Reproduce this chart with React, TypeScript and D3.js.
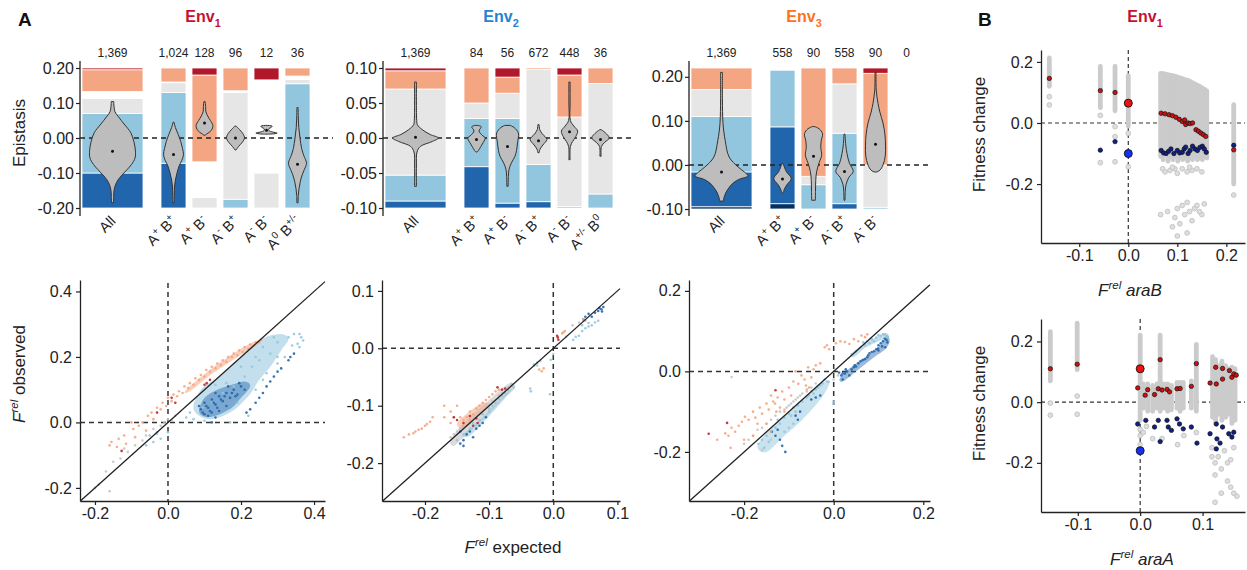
import React, { useEffect, useRef } from 'react';
import * as d3 from 'd3';

const W = 1247;
const H = 570;
const FONT = '"Liberation Sans", Arial, Helvetica, sans-serif';

// segment order, bottom to top: navy, dark blue, light blue, gray, white, salmon, dark red
const segColors = ['#053061', '#2166ac', '#92c5de', '#e6e6e6', '#ffffff', '#f4a582', '#b2182b'];

// ---------- Panel A, top row: epistasis per class ----------
const env1Cats = ['All', 'A^{+} B^{+}', 'A^{+} B^{-}', 'A^{-} B^{+}', 'A^{-} B^{-}', 'A^{0} B^{+/-}'];
const env1Counts = ['1,369', '1,024', '128', '96', '12', '36'];
const env1Segs = [
  [0, 0.25, 0.425, 0.1075, 0.05, 0.155, 0.0125],
  [0, 0.32, 0.505, 0.07, 0.005, 0.1, 0],
  [0, 0, 0, 0.075, 0.255, 0.62, 0.05],
  [0, 0, 0.0625, 0.7625, 0.0125, 0.1625, 0],
  [0, 0, 0, 0.25, 0.665, 0, 0.085],
  [0, 0, 0.8875, 0.03, 0.025, 0.0575, 0],
];
const env1Violins = [
  [[0.104, 0.04], [0.09, 0.05], [0.075, 0.08], [0.06, 0.2], [0.04, 0.38], [0.015, 0.6], [-0.01, 0.7], [-0.035, 0.75], [-0.057, 0.74], [-0.076, 0.62], [-0.09, 0.48], [-0.105, 0.32], [-0.12, 0.18], [-0.133, 0.1], [-0.15, 0.05], [-0.17, 0.04], [-0.185, 0.03]],
  [[0.045, 0.04], [0.03, 0.15], [0.01, 0.38], [-0.01, 0.58], [-0.03, 0.72], [-0.048, 0.8], [-0.065, 0.65], [-0.08, 0.45], [-0.1, 0.28], [-0.12, 0.15], [-0.14, 0.08], [-0.16, 0.06], [-0.185, 0.05]],
  [[0.104, 0.05], [0.09, 0.09], [0.075, 0.11], [0.06, 0.3], [0.05, 0.47], [0.036, 0.67], [0.022, 0.55], [0.012, 0.2], [0.008, 0.05]],
  [[0.034, 0.05], [0.025, 0.3], [0.012, 0.6], [0.0, 0.72], [-0.012, 0.55], [-0.024, 0.25], [-0.034, 0.05]],
  [[0.036, 0.05], [0.034, 0.45], [0.031, 0.4], [0.026, 0.18], [0.021, 0.2], [0.017, 0.5], [0.014, 0.85], [0.012, 0.6], [0.011, 0.05]],
  [[0.087, 0.05], [0.06, 0.06], [0.03, 0.1], [0.0, 0.2], [-0.03, 0.33], [-0.05, 0.5], [-0.072, 0.72], [-0.09, 0.55], [-0.105, 0.38], [-0.125, 0.22], [-0.145, 0.12], [-0.165, 0.06], [-0.185, 0.05]],
];
const env1Medians = [-0.038, -0.047, 0.043, 0.0, 0.022, -0.075];

const env2Cats = ['All', 'A^{+} B^{+}', 'A^{+} B^{-}', 'A^{-} B^{+}', 'A^{-} B^{-}', 'A^{+/-} B^{0}'];
const env2Counts = ['1,369', '84', '56', '672', '448', '36'];
const env2Segs = [
  [0, 0.05, 0.185, 0.615, 0, 0.13, 0.02],
  [0, 0.295, 0.345, 0.11, 0, 0.25, 0],
  [0, 0.035, 0.605, 0.18, 0, 0.115, 0.065],
  [0, 0.045, 0.265, 0.68, 0, 0.01, 0],
  [0, 0, 0.01, 0.64, 0, 0.3, 0.05],
  [0, 0, 0.1, 0.79, 0, 0.11, 0],
];
const env2Violins = [
  [[0.08, 0.03], [0.05, 0.03], [0.025, 0.04], [0.019, 0.06], [0.012, 0.22], [0.005, 0.48], [0.0, 0.75], [-0.005, 0.55], [-0.012, 0.16], [-0.02, 0.05], [-0.04, 0.03], [-0.069, 0.03]],
  [[0.018, 0.1], [0.016, 0.38], [0.01, 0.2], [0.004, 0.45], [0.0, 0.7], [-0.006, 0.55], [-0.012, 0.35], [-0.018, 0.15], [-0.02, 0.05]],
  [[0.018, 0.2], [0.015, 0.53], [0.007, 0.87], [-0.007, 0.8], [-0.018, 0.72], [-0.026, 0.6], [-0.036, 0.3], [-0.045, 0.12], [-0.055, 0.07], [-0.069, 0.05]],
  [[0.019, 0.05], [0.012, 0.1], [0.006, 0.3], [-0.002, 0.67], [-0.01, 0.35], [-0.016, 0.12], [-0.021, 0.05]],
  [[0.08, 0.05], [0.05, 0.05], [0.025, 0.07], [0.017, 0.35], [0.01, 0.65], [0.002, 0.5], [-0.005, 0.25], [-0.012, 0.07], [-0.031, 0.05]],
  [[0.012, 0.05], [0.008, 0.35], [0.0, 0.7], [-0.006, 0.35], [-0.012, 0.08], [-0.026, 0.05]],
];
const env2Medians = [0.001, -0.002, -0.012, -0.004, 0.009, -0.002];

const env3Cats = ['All', 'A^{+} B^{+}', 'A^{+} B^{-}', 'A^{-} B^{+}', 'A^{-} B^{-}', ''];
const env3Counts = ['1,369', '558', '90', '558', '90', '0'];
const env3Segs = [
  [0.016, 0.247, 0.394, 0.19, 0, 0.153, 0],
  [0.0375, 0.545, 0.403, 0, 0.0145, 0, 0],
  [0, 0, 0.172, 0.06, 0, 0.768, 0],
  [0, 0.0375, 0.5, 0.35, 0, 0.1125, 0],
  [0, 0, 0.0125, 0.3, 0, 0.65, 0.0375],
  [0, 0, 0, 0, 0, 0, 0],
];
const env3Violins = [
  [[0.21, 0.03], [0.15, 0.03], [0.094, 0.05], [0.056, 0.12], [0.018, 0.25], [-0.005, 0.55], [-0.016, 0.75], [-0.025, 0.87], [-0.032, 0.6], [-0.04, 0.4], [-0.056, 0.2], [-0.07, 0.1], [-0.082, 0.06]],
  [[0.003, 0.05], [-0.015, 0.3], [-0.031, 0.7], [-0.045, 0.35], [-0.055, 0.15], [-0.064, 0.05]],
  [[0.087, 0.1], [0.082, 0.45], [0.071, 0.72], [0.055, 0.62], [0.04, 0.58], [0.022, 0.65], [0.005, 0.45], [-0.015, 0.25], [-0.035, 0.18], [-0.06, 0.16], [-0.08, 0.15]],
  [[0.07, 0.04], [0.045, 0.1], [0.026, 0.2], [0.005, 0.38], [-0.015, 0.7], [-0.028, 0.35], [-0.045, 0.12], [-0.06, 0.06], [-0.08, 0.04]],
  [[0.21, 0.04], [0.17, 0.06], [0.14, 0.2], [0.12, 0.35], [0.095, 0.6], [0.07, 0.75], [0.045, 0.8], [0.02, 0.78], [0.0, 0.6], [-0.012, 0.35], [-0.016, 0.1]],
  null,
];
const env3Medians = [-0.016, -0.032, 0.02, -0.015, 0.047, null];

// ---------- Panel A, bottom row: F rel observed vs expected ----------
const s1Salmon = [[-0.16, -0.07], [-0.155, -0.06], [-0.14, -0.075], [-0.135, -0.05], [-0.12, -0.04], [-0.115, -0.065], [-0.1, 0.0], [-0.095, -0.02], [-0.09, -0.045], [-0.08, -0.01], [-0.07, 0.0], [-0.06, -0.025], [-0.055, 0.02], [-0.045, 0.03], [-0.04, 0.01], [-0.03, 0.045], [-0.02, 0.04], [-0.015, 0.06], [-0.005, 0.05], [0.0, 0.075], [0.01, 0.065], [0.015, 0.085], [0.025, 0.08], [0.03, 0.095], [0.04, 0.09], [0.045, 0.11], [0.055, 0.105], [0.06, 0.12], [0.07, 0.115], [0.075, 0.135], [0.085, 0.13], [0.09, 0.145], [0.1, 0.14], [0.105, 0.16], [0.115, 0.155], [0.12, 0.17], [0.13, 0.165], [0.135, 0.18], [0.145, 0.175], [0.15, 0.19], [0.16, 0.185], [0.165, 0.2], [0.175, 0.2], [0.18, 0.21], [0.19, 0.205], [0.195, 0.22], [0.205, 0.215], [0.21, 0.23], [0.22, 0.225], [0.225, 0.238], [0.235, 0.235], [0.24, 0.245], [0.25, 0.245], [0.255, 0.252]];
const s1Red = [[-0.127, -0.087], [0.01, 0.075], [0.106, 0.12], [0.1, 0.115], [-0.03, 0.03], [0.115, 0.13], [0.02, 0.06]];
const s1LBlue = [[0.33, 0.26], [0.345, 0.27], [0.36, 0.27], [0.365, 0.26], [0.37, 0.25], [0.36, 0.23], [0.34, 0.235], [0.355, 0.24], [0.32, 0.2], [0.3, 0.18], [0.24, 0.2], [0.26, 0.23], [0.2, 0.17], [0.27, 0.15], [0.16, 0.12], [0.13, 0.115], [0.06, 0.03], [0.05, 0.015], [0.07, 0.01], [0.1, 0.005], [0.17, 0.0], [0.22, 0.02], [-0.05, -0.04], [-0.03, -0.03], [-0.04, -0.06], [-0.02, -0.05], [0.0, -0.03], [-0.06, -0.07], [0.29, 0.26], [0.3, 0.245], [0.28, 0.21], [0.25, 0.19], [0.23, 0.17], [0.21, 0.14], [0.18, 0.11], [0.15, 0.09], [0.12, 0.06], [0.095, 0.045], [0.19, 0.06], [0.24, 0.1], [0.26, 0.13], [0.3, 0.2]];
const s1DBlue = [[0.09, 0.04], [0.1, 0.06], [0.11, 0.045], [0.12, 0.07], [0.13, 0.055], [0.14, 0.08], [0.15, 0.065], [0.16, 0.09], [0.17, 0.075], [0.18, 0.1], [0.19, 0.085], [0.2, 0.11], [0.21, 0.1], [0.12, 0.03], [0.14, 0.035], [0.16, 0.05], [0.1, 0.025], [0.085, 0.05], [0.13, 0.09], [0.165, 0.11], [0.195, 0.12], [0.225, 0.04], [0.24, 0.06], [0.25, 0.075], [0.26, 0.09], [0.27, 0.11], [0.28, 0.125], [0.29, 0.14], [0.3, 0.155], [0.31, 0.165], [0.33, 0.19], [0.335, 0.2], [0.345, 0.21], [0.215, 0.03], [0.12, 0.0], [0.105, 0.05], [0.115, 0.035], [0.125, 0.06], [0.135, 0.045], [0.145, 0.07], [0.155, 0.08], [0.175, 0.09], [0.185, 0.08], [0.095, 0.03], [0.11, 0.02], [0.13, 0.015]];
const s1Gray = [[-0.2, -0.2], [-0.19, -0.19], [-0.17, -0.15], [-0.15, -0.12], [-0.13, -0.11], [-0.11, -0.09], [-0.09, -0.07], [-0.07, -0.055], [-0.06, -0.04], [-0.04, -0.02], [-0.03, -0.035], [-0.02, -0.01], [-0.01, 0.0], [0.0, 0.01], [0.01, 0.005], [-0.16, -0.21], [-0.12, -0.08], [0.02, 0.02]];
const s1LBlueCloud = [[0.07, 0.04], [0.09, 0.1], [0.14, 0.14], [0.19, 0.19], [0.23, 0.235], [0.27, 0.262], [0.31, 0.27], [0.33, 0.255], [0.31, 0.22], [0.28, 0.17], [0.25, 0.13], [0.22, 0.08], [0.17, 0.03], [0.11, 0.01]];
const s1DBlueCloud = [[0.085, 0.035], [0.1, 0.075], [0.135, 0.1], [0.175, 0.115], [0.21, 0.125], [0.225, 0.11], [0.2, 0.075], [0.175, 0.045], [0.13, 0.02], [0.1, 0.018]];
const s1SalmonCloud = [[0.05, 0.1], [0.12, 0.165], [0.2, 0.225], [0.25, 0.252], [0.245, 0.238], [0.19, 0.2], [0.12, 0.148], [0.06, 0.095]];

const s2Salmon = [[-0.233, -0.155], [-0.225, -0.15], [-0.218, -0.148], [-0.21, -0.142], [-0.205, -0.14], [-0.197, -0.132], [-0.192, -0.128], [-0.188, -0.12], [-0.2, -0.135], [-0.215, -0.145], [-0.17, -0.1], [-0.16, -0.11], [-0.15, -0.1], [-0.155, -0.12], [-0.145, -0.12], [-0.14, -0.125], [-0.135, -0.12], [-0.13, -0.11], [-0.125, -0.115], [-0.12, -0.105], [-0.115, -0.1], [-0.11, -0.095], [-0.105, -0.09], [-0.1, -0.085], [-0.095, -0.08], [-0.09, -0.075], [-0.085, -0.072], [-0.14, -0.135], [-0.13, -0.125], [-0.022, -0.037], [-0.018, -0.04], [-0.015, -0.035], [0.016, 0.028], [0.018, 0.03], [0.014, 0.026], [0.047, 0.05], [0.05, 0.048], [-0.16, -0.13], [-0.17, -0.12]];
const s2Red = [[-0.155, -0.12], [-0.15, -0.125], [-0.14, -0.13], [-0.13, -0.118], [-0.125, -0.135], [-0.12, -0.122], [-0.118, -0.13], [-0.087, -0.068], [-0.08, -0.072], [-0.075, -0.07], [0.007, 0.019], [0.008, 0.015], [0.006, 0.022]];
const s2LBlue = [[-0.15, -0.16], [-0.14, -0.15], [-0.13, -0.14], [-0.125, -0.13], [-0.115, -0.125], [-0.11, -0.115], [-0.1, -0.105], [-0.095, -0.1], [-0.085, -0.088], [-0.08, -0.082], [-0.075, -0.078], [-0.07, -0.072], [-0.065, -0.065], [-0.062, -0.068], [-0.036, -0.07], [-0.035, -0.075], [-0.005, -0.08], [-0.004, -0.02], [0.031, 0.015], [0.035, 0.02], [0.04, 0.022], [0.045, 0.03], [0.05, 0.035], [0.055, 0.038], [0.06, 0.04], [0.065, 0.045], [0.07, 0.048], [0.055, 0.044], [0.045, 0.04], [-0.03, -0.03], [-0.025, -0.025], [-0.1, -0.11], [-0.09, -0.095]];
const s2DBlue = [[-0.145, -0.145], [-0.14, -0.16], [-0.135, -0.15], [-0.13, -0.145], [-0.125, -0.155], [-0.12, -0.14], [-0.115, -0.135], [-0.11, -0.13], [-0.105, -0.12], [-0.145, -0.166], [-0.14, -0.17], [0.047, 0.05], [0.05, 0.055], [0.055, 0.06], [0.06, 0.055], [0.065, 0.062], [0.07, 0.065], [0.075, 0.068], [0.078, 0.072], [0.076, 0.064], [0.072, 0.07]];
const s2Gray = [[-0.16, -0.155], [-0.155, -0.15], [-0.15, -0.145], [-0.145, -0.14], [-0.14, -0.14], [-0.135, -0.135], [-0.13, -0.13], [-0.125, -0.12], [-0.12, -0.118], [-0.115, -0.112], [-0.11, -0.108], [-0.105, -0.1], [-0.1, -0.098], [-0.095, -0.092], [-0.09, -0.09], [-0.085, -0.082], [-0.08, -0.078], [-0.075, -0.072], [-0.07, -0.068], [-0.065, -0.062], [-0.03, -0.028], [-0.025, -0.03], [-0.02, -0.022], [0.0, -0.01], [0.02, 0.02], [0.03, 0.04], [0.04, 0.045]];
const s2GrayCloud = [[-0.16, -0.16], [-0.14, -0.13], [-0.11, -0.1], [-0.08, -0.07], [-0.065, -0.06], [-0.06, -0.07], [-0.08, -0.09], [-0.11, -0.125], [-0.14, -0.155], [-0.155, -0.17]];
const s2SalmonCloud = [[-0.15, -0.13], [-0.13, -0.11], [-0.11, -0.095], [-0.1, -0.1], [-0.12, -0.12], [-0.14, -0.14]];
const s2LBlueCloud = [[-0.14, -0.15], [-0.11, -0.12], [-0.08, -0.085], [-0.065, -0.07], [-0.07, -0.08], [-0.1, -0.118], [-0.13, -0.152]];

const s3Salmon = [[-0.242, -0.154], [-0.235, -0.16], [-0.228, -0.14], [-0.22, -0.15], [-0.212, -0.135], [-0.205, -0.125], [-0.198, -0.113], [-0.19, -0.12], [-0.18, -0.1], [-0.175, -0.115], [-0.17, -0.13], [-0.165, -0.09], [-0.16, -0.105], [-0.15, -0.08], [-0.145, -0.095], [-0.14, -0.06], [-0.135, -0.075], [-0.131, -0.08], [-0.128, -0.1], [-0.125, -0.065], [-0.12, -0.09], [-0.115, -0.05], [-0.11, -0.07], [-0.1, -0.04], [-0.09, -0.025], [-0.085, 0.0], [-0.079, -0.031], [-0.072, -0.01], [-0.065, -0.02], [-0.062, -0.035], [-0.06, -0.045], [-0.057, 0.01], [-0.055, -0.04], [-0.05, -0.015], [-0.045, 0.005], [-0.04, 0.015], [-0.03, 0.02], [-0.02, 0.06], [-0.015, 0.065], [-0.01, 0.055], [0.005, 0.07], [0.015, 0.075], [0.025, 0.073], [0.035, 0.068], [0.045, 0.08], [0.055, 0.075], [0.062, 0.089], [0.07, 0.085], [0.075, 0.092], [-0.26, -0.17], [-0.23, -0.19], [-0.2, -0.17], [-0.18, -0.16], [-0.15, -0.13], [-0.14, -0.15], [-0.11, -0.1], [-0.095, -0.06]];
const s3Red = [[-0.279, -0.155], [-0.238, -0.128], [-0.13, -0.047]];
const s3LBlue = [[-0.168, -0.18], [-0.16, -0.17], [-0.15, -0.16], [-0.14, -0.15], [-0.13, -0.14], [-0.125, -0.12], [-0.12, -0.13], [-0.11, -0.115], [-0.1, -0.105], [-0.095, -0.11], [-0.09, -0.09], [-0.085, -0.1], [-0.08, -0.085], [-0.07, -0.075], [-0.06, -0.065], [-0.055, -0.06], [-0.05, -0.05], [-0.045, -0.055], [-0.04, -0.045], [-0.035, -0.04], [-0.03, -0.035], [-0.025, -0.03], [-0.02, -0.02], [-0.015, -0.025], [-0.011, -0.026], [-0.001, -0.08], [0.0, -0.075], [-0.155, -0.19], [-0.145, -0.175], [-0.1, -0.14], [-0.09, -0.13], [-0.11, -0.15], [0.04, 0.042], [0.05, 0.05], [0.06, 0.06], [0.066, 0.072], [0.075, 0.075], [0.085, 0.08], [0.095, 0.084], [0.1, 0.09], [0.105, 0.088], [0.11, 0.092], [0.114, 0.092], [0.118, 0.088], [0.12, 0.085], [0.09, 0.075], [0.08, 0.07], [0.07, 0.065]];
const s3DBlue = [[0.017, -0.01], [0.02, -0.02], [0.025, -0.005], [0.03, 0.0], [0.035, -0.01], [0.04, 0.005], [0.045, 0.01], [0.047, 0.015], [0.05, 0.012], [0.055, 0.02], [0.06, 0.025], [0.065, 0.028], [0.07, 0.03], [0.075, 0.035], [0.077, 0.04], [0.08, 0.045], [0.085, 0.048], [0.09, 0.05], [0.095, 0.055], [0.099, 0.057], [0.1, 0.065], [0.105, 0.07], [0.11, 0.075], [0.114, 0.081], [0.118, 0.078], [0.12, 0.072], [0.115, 0.06], [0.108, 0.062], [0.1, 0.052], [0.02, -0.005], [0.012, -0.003], [0.027, 0.005], [-0.138, -0.15], [-0.13, -0.16], [-0.12, -0.17], [-0.115, -0.185], [-0.108, -0.2], [-0.125, -0.145], [-0.08, -0.12], [-0.085, -0.11], [-0.075, -0.1], [-0.05, -0.07], [-0.04, -0.065], [-0.03, -0.06]];
const s3Gray = [[-0.2, -0.18], [-0.19, -0.17], [-0.18, -0.16], [-0.17, -0.145], [-0.16, -0.14], [-0.15, -0.13], [-0.14, -0.12], [-0.13, -0.11], [-0.12, -0.1], [-0.11, -0.095], [-0.105, -0.09], [-0.1, -0.085], [-0.095, -0.08], [-0.09, -0.075], [-0.085, -0.07], [-0.08, -0.065], [-0.075, -0.06], [-0.07, -0.055], [-0.06, -0.05], [-0.05, -0.04], [-0.04, -0.03], [-0.228, -0.014], [-0.16, -0.195], [-0.14, -0.17], [0.0, -0.02], [0.01, -0.01]];
const s3LBlueCloud = [[-0.17, -0.185], [-0.14, -0.14], [-0.1, -0.1], [-0.06, -0.06], [-0.03, -0.03], [-0.01, -0.03], [-0.03, -0.07], [-0.07, -0.12], [-0.11, -0.16], [-0.15, -0.2]];
const s3DBlueCloud = [[0.015, -0.015], [0.05, 0.02], [0.09, 0.05], [0.11, 0.075], [0.12, 0.09], [0.125, 0.075], [0.115, 0.055], [0.09, 0.035], [0.05, 0.0], [0.02, -0.025]];
const s3UpperLBlueCloud = [[0.04, 0.045], [0.07, 0.07], [0.1, 0.088], [0.118, 0.095], [0.122, 0.085], [0.1, 0.075], [0.07, 0.058], [0.045, 0.035]];

// ---------- Panel B: fitness change vs F rel of single mutants ----------
// gray columns of stacked points: [x, yMin, yMax]
const b1GrayCols = [[-0.161, 0.12, 0.213], [-0.057, 0.05, 0.185], [-0.027, 0.04, 0.185], [0.0, -0.01, 0.155], [0.066, -0.11, 0.162], [0.071, -0.12, 0.162], [0.076, -0.1, 0.16], [0.081, -0.125, 0.158], [0.086, -0.11, 0.157], [0.091, -0.12, 0.155], [0.096, -0.11, 0.153], [0.101, -0.125, 0.15], [0.106, -0.115, 0.148], [0.111, -0.12, 0.145], [0.116, -0.11, 0.142], [0.121, -0.125, 0.14], [0.126, -0.115, 0.136], [0.131, -0.12, 0.132], [0.136, -0.11, 0.128], [0.141, -0.12, 0.124], [0.146, -0.115, 0.12], [0.151, -0.12, 0.115], [0.156, -0.11, 0.11], [0.16, -0.115, 0.105], [0.215, -0.2, 0.06]];
const b1Gray = [[-0.161, 0.086], [-0.161, 0.059], [-0.057, 0.025], [-0.057, -0.13], [-0.027, -0.012], [-0.027, -0.045], [-0.027, -0.127], [0.0, -0.034], [0.0, -0.143], [0.215, -0.236], [0.07, -0.15], [0.075, -0.16], [0.085, -0.155], [0.095, -0.15], [0.1, -0.165], [0.11, -0.15], [0.12, -0.16], [0.13, -0.155], [0.14, -0.15], [0.15, -0.16], [0.09, -0.145], [0.125, -0.145], [0.066, -0.3], [0.08, -0.29], [0.095, -0.31], [0.1, -0.28], [0.11, -0.27], [0.115, -0.3], [0.12, -0.26], [0.125, -0.29], [0.13, -0.32], [0.135, -0.28], [0.14, -0.27], [0.15, -0.3], [0.105, -0.33], [0.09, -0.34], [0.1, -0.37], [0.12, -0.36], [0.145, -0.29], [0.155, -0.265]];
const b1Red = [[-0.161, 0.146], [-0.057, 0.106], [-0.027, 0.1], [0.067, 0.032], [0.075, 0.03], [0.083, 0.027], [0.09, 0.024], [0.097, 0.019], [0.104, 0.012], [0.11, 0.005], [0.115, 0.01], [0.117, -0.005], [0.122, 0.0], [0.126, -0.002], [0.131, 0.0], [0.138, -0.022], [0.143, -0.027], [0.148, -0.033], [0.153, -0.038], [0.158, -0.044], [0.215, -0.088]];
const b1Blue = [[-0.057, -0.089], [-0.027, -0.061], [0.067, -0.09], [0.072, -0.098], [0.077, -0.1], [0.082, -0.093], [0.087, -0.085], [0.093, -0.1], [0.1, -0.09], [0.105, -0.098], [0.11, -0.096], [0.114, -0.085], [0.117, -0.079], [0.122, -0.1], [0.126, -0.09], [0.131, -0.076], [0.136, -0.085], [0.141, -0.09], [0.146, -0.08], [0.151, -0.076], [0.155, -0.085], [0.159, -0.096], [0.215, -0.073]];
const b1BigRed = [[0.0, 0.065]];
const b1BigBlue = [[0.0, -0.1]];

const b2GrayCols = [[-0.144, 0.07, 0.232], [-0.101, 0.107, 0.26], [0.0, -0.06, 0.221], [0.005, -0.02, 0.06], [0.012, -0.03, 0.06], [0.02, -0.03, 0.055], [0.027, -0.02, 0.06], [0.032, -0.03, 0.221], [0.038, -0.02, 0.06], [0.044, -0.03, 0.06], [0.05, -0.025, 0.055], [0.059, -0.02, 0.065], [0.064, -0.03, 0.065], [0.069, -0.02, 0.065], [0.082, -0.02, 0.07], [0.09, -0.03, 0.19], [0.116, -0.05, 0.15], [0.121, -0.07, 0.14], [0.126, -0.04, 0.12], [0.131, -0.06, 0.135], [0.137, -0.05, 0.12], [0.142, -0.04, 0.11], [0.147, -0.07, 0.115], [0.152, -0.06, 0.11]];
const b2Gray = [[-0.144, -0.003], [-0.144, -0.043], [-0.101, 0.02], [-0.101, -0.04], [0.0, -0.09], [0.0, -0.11], [0.005, -0.1], [0.02, -0.12], [0.035, -0.12], [0.06, -0.14], [0.07, -0.11], [0.09, -0.1], [0.115, -0.18], [0.12, -0.2], [0.125, -0.18], [0.12, -0.24], [0.13, -0.22], [0.14, -0.2], [0.145, -0.19], [0.14, -0.26], [0.145, -0.28], [0.15, -0.3], [0.155, -0.31], [0.13, -0.3], [0.12, -0.33], [0.115, -0.15], [0.15, -0.15], [0.135, -0.16], [0.0, -0.14], [0.01, -0.08]];
const b2Red = [[-0.144, 0.11], [-0.101, 0.125], [0.032, 0.14], [0.09, 0.127], [-0.004, 0.047], [0.008, 0.023], [0.012, 0.041], [0.023, 0.025], [0.029, 0.044], [0.035, 0.04], [0.043, 0.042], [0.047, 0.034], [0.059, 0.044], [0.064, 0.045], [0.082, 0.052], [0.112, 0.063], [0.122, 0.06], [0.132, 0.076], [0.121, 0.115], [0.132, 0.111], [0.143, 0.104], [0.147, 0.082], [0.15, 0.093], [0.154, 0.089]];
const b2Blue = [[-0.004, -0.072], [0.009, -0.06], [0.023, -0.082], [0.029, -0.06], [0.032, -0.13], [0.043, -0.06], [0.045, -0.082], [0.05, -0.093], [0.059, -0.055], [0.063, -0.072], [0.069, -0.088], [0.082, -0.082], [0.091, -0.135], [0.112, -0.104], [0.122, -0.072], [0.123, -0.121], [0.128, -0.135], [0.132, -0.082], [0.122, -0.154], [0.142, -0.104], [0.147, -0.115], [0.15, -0.099]];
const b2BigRed = [[0.0, 0.11]];
const b2BigBlue = [[0.0, -0.16]];

// ---------- helpers ----------
function richText(sel: any, str: string, fs: number) {
  const parts = str.split(/(\^\{[^}]*\}|_\{[^}]*\})/).filter(s => s !== '');
  let off = 0;
  parts.forEach(part => {
    let shift = 0, txt = part, size = fs;
    if (part.startsWith('^{')) { shift = -fs * 0.42; txt = part.slice(2, -1); size = fs * 0.68; }
    else if (part.startsWith('_{')) { shift = fs * 0.3; txt = part.slice(2, -1); size = fs * 0.68; }
    sel.append('tspan').attr('dy', shift - off).attr('font-size', size).text(txt);
    off = shift;
  });
}

function frelText(sel: any, rest: string, restItalic: boolean) {
  sel.append('tspan').attr('font-style', 'italic').text('F');
  sel.append('tspan').attr('font-style', 'italic').attr('font-size', 11.5).attr('dy', -7).text('rel');
  sel.append('tspan').attr('dy', 7).attr('font-style', restItalic ? 'italic' : 'normal').text(' ' + rest);
}

function styleAxis(ax: any) {
  ax.attr('font-size', 16).attr('font-family', FONT);
  ax.selectAll('text').attr('fill', '#222');
  ax.selectAll('line').attr('stroke', '#222').attr('stroke-width', 1.2);
  ax.select('.domain').attr('stroke', '#222').attr('stroke-width', 1.3);
}

const topPanels = [
  { axisX: 80, end: 333, domain: [-0.2, 0.2], yRange: [208, 68], ticks: [-0.2, -0.1, 0, 0.1, 0.2], cats: env1Cats, counts: env1Counts, segs: env1Segs, violins: env1Violins, medians: env1Medians, title: 'Env_{1}', color: '#c8102e', titleX: 203 },
  { axisX: 383, end: 634, domain: [-0.1, 0.1], yRange: [208, 68], ticks: [-0.1, -0.05, 0, 0.05, 0.1], cats: env2Cats, counts: env2Counts, segs: env2Segs, violins: env2Violins, medians: env2Medians, title: 'Env_{2}', color: '#2384d2', titleX: 501 },
  { axisX: 689, end: 930, domain: [-0.1, 0.22], yRange: [209, 68], ticks: [-0.1, 0, 0.1, 0.2], cats: env3Cats, counts: env3Counts, segs: env3Segs, violins: env3Violins, medians: env3Medians, title: 'Env_{3}', color: '#ff7020', titleX: 804 },
];

function drawTop(svg: any, p: any) {
  const g = svg.append('g');
  const y = d3.scaleLinear().domain(p.domain).range(p.yRange);
  const small = d3.scaleBand<number>().domain(d3.range(1, 6)).range([p.axisX + 81, p.axisX + 230]).paddingInner(6 / 31);
  const pos = (i: number) => (i === 0 ? { x: p.axisX + 2, w: 61 } : { x: small(i) as number, w: small.bandwidth() });
  const span = p.domain[1] - p.domain[0];

  // stacked class bars
  p.segs.forEach((seg: number[], i: number) => {
    const { x, w } = pos(i);
    let cum = 0;
    seg.forEach((f, k) => {
      if (f <= 0) return;
      const v0 = p.domain[0] + cum * span;
      const v1 = p.domain[0] + (cum + f) * span;
      cum += f;
      g.append('rect').attr('x', x).attr('width', w)
        .attr('y', y(v1)).attr('height', y(v0) - y(v1))
        .attr('fill', segColors[k]).attr('stroke', '#fff').attr('stroke-width', 0.8);
    });
  });

  g.append('line').attr('x1', p.axisX).attr('x2', p.end).attr('y1', y(0)).attr('y2', y(0))
    .attr('stroke', '#222').attr('stroke-width', 1.6).attr('stroke-dasharray', '5,4');

  // violins
  p.violins.forEach((prof: any, i: number) => {
    if (!prof) return;
    const { x, w } = pos(i);
    const cx = x + w / 2, hw = w / 2;
    const area = d3.area<any>().y(d => y(d[0])).x0(d => cx - d[1] * hw).x1(d => cx + d[1] * hw).curve(d3.curveCatmullRom);
    g.append('path').attr('d', area(prof)).attr('fill', '#bdbdbd').attr('stroke', '#333').attr('stroke-width', 1);
    g.append('circle').attr('cx', cx).attr('cy', y(p.medians[i])).attr('r', 1.5).attr('fill', '#111');
  });

  // y axis
  const ax = g.append('g').attr('transform', `translate(${p.axisX},0)`)
    .call(d3.axisLeft(y).tickValues(p.ticks).tickSize(4).tickPadding(2).tickFormat((d: any) => (+d).toFixed(2)));
  ax.select('.domain').remove();
  styleAxis(ax);
  g.append('line').attr('x1', p.axisX).attr('x2', p.axisX).attr('y1', 61).attr('y2', 216).attr('stroke', '#222').attr('stroke-width', 1.3);

  // counts and category labels
  p.counts.forEach((c: string, i: number) => {
    const { x, w } = pos(i);
    g.append('text').attr('x', x + w / 2).attr('y', 57).attr('text-anchor', 'middle')
      .attr('font-size', 12).attr('font-family', FONT).attr('fill', '#222').text(c);
  });
  p.cats.forEach((c: string, i: number) => {
    if (!c) return;
    const { x, w } = pos(i);
    const t = g.append('text').attr('transform', `translate(${x + w / 2 + 4},222) rotate(-45)`)
      .attr('text-anchor', 'end').attr('font-family', FONT).attr('fill', '#222').attr('font-size', 14.5)
      .style('white-space', 'pre');
    richText(t, c, 14.5);
  });

  const tt = g.append('text').attr('x', p.titleX).attr('y', 22).attr('text-anchor', 'middle')
    .attr('font-family', FONT).attr('font-weight', 'bold').attr('fill', p.color).attr('font-size', 16);
  richText(tt, p.title, 16);
}

const scatterPanels = [
  { xDomain: [-0.241, 0.43], yDomain: [-0.24, 0.435], xRange: [80, 325], xTicks: [-0.2, 0, 0.2, 0.4], yTicks: [-0.2, 0, 0.2, 0.4],
    clouds: [[s1LBlueCloud, '#92c5de', 0.55], [s1DBlueCloud, '#2166ac', 0.45], [s1SalmonCloud, '#f4a582', 0.55]],
    gray: s1Gray, lblue: s1LBlue, dblue: s1DBlue, salmon: s1Salmon, red: s1Red },
  { xDomain: [-0.267, 0.104], yDomain: [-0.266, 0.119], xRange: [382, 620], xTicks: [-0.2, -0.1, 0, 0.1], yTicks: [-0.2, -0.1, 0, 0.1],
    clouds: [[s2GrayCloud, '#bdbdbd', 0.55], [s2SalmonCloud, '#f4a582', 0.55], [s2LBlueCloud, '#92c5de', 0.55]],
    gray: s2Gray, lblue: s2LBlue, dblue: s2DBlue, salmon: s2Salmon, red: s2Red },
  { xDomain: [-0.323, 0.215], yDomain: [-0.322, 0.227], xRange: [689, 930], xTicks: [-0.2, 0, 0.2], yTicks: [-0.2, 0, 0.2],
    clouds: [[s3LBlueCloud, '#92c5de', 0.5], [s3UpperLBlueCloud, '#92c5de', 0.55], [s3DBlueCloud, '#2166ac', 0.45]],
    gray: s3Gray, lblue: s3LBlue, dblue: s3DBlue, salmon: s3Salmon, red: s3Red },
];

function drawScatter(svg: any, p: any) {
  const g = svg.append('g');
  const x = d3.scaleLinear().domain(p.xDomain).range(p.xRange);
  const y = d3.scaleLinear().domain(p.yDomain).range([501, 280]);

  g.append('line').attr('x1', x(0)).attr('x2', x(0)).attr('y1', 283).attr('y2', 501)
    .attr('stroke', '#333').attr('stroke-width', 1.5).attr('stroke-dasharray', '5,4');
  g.append('line').attr('x1', p.xRange[0]).attr('x2', p.xRange[1]).attr('y1', y(0)).attr('y2', y(0))
    .attr('stroke', '#333').attr('stroke-width', 1.5).attr('stroke-dasharray', '5,4');

  const blob = d3.line<any>().x(d => x(d[0])).y(d => y(d[1])).curve(d3.curveCardinalClosed);
  p.clouds.forEach(([pts, col, op]: any) => {
    g.append('path').attr('d', blob(pts)).attr('fill', col).attr('opacity', op);
  });

  const series: [number[][], string][] = [[p.gray, '#c4c4c4'], [p.lblue, '#92c5de'], [p.dblue, '#2166ac'], [p.salmon, '#f4a582'], [p.red, '#c0272d']];
  series.forEach(([pts, col]) => {
    g.append('g').selectAll('circle').data(pts).enter().append('circle')
      .attr('cx', (d: any) => x(d[0])).attr('cy', (d: any) => y(d[1])).attr('r', 1.3)
      .attr('fill', col).attr('opacity', 0.9);
  });

  const t0 = Math.max(p.xDomain[0], p.yDomain[0]);
  const t1 = Math.min(p.xDomain[1], p.yDomain[1]);
  g.append('line').attr('x1', x(t0)).attr('y1', y(t0)).attr('x2', x(t1)).attr('y2', y(t1))
    .attr('stroke', '#222').attr('stroke-width', 1.3);

  const ax = g.append('g').attr('transform', 'translate(0,501)')
    .call(d3.axisBottom(x).tickValues(p.xTicks).tickSize(4).tickSizeOuter(0).tickPadding(3).tickFormat((d: any) => (+d).toFixed(1)));
  styleAxis(ax);
  const ay = g.append('g').attr('transform', `translate(${p.xRange[0]},0)`)
    .call(d3.axisLeft(y).tickValues(p.yTicks).tickSize(4).tickSizeOuter(0).tickPadding(4).tickFormat((d: any) => (+d).toFixed(1)));
  styleAxis(ay);
}

const bPanels = [
  { xDomain: [-0.178, 0.238], yDomain: [-0.393, 0.239], yRange: [243, 50], xTicks: [-0.1, 0, 0.1, 0.2], yTicks: [-0.2, 0, 0.2],
    cols: b1GrayCols, gray: b1Gray, red: b1Red, blue: b1Blue, bigRed: b1BigRed, bigBlue: b1BigBlue, xLabel: 'araB', xLabelY: 296, xLabelX: 1130 },
  { xDomain: [-0.159, 0.168], yDomain: [-0.362, 0.274], yRange: [512, 319], xTicks: [-0.1, 0, 0.1], yTicks: [-0.2, 0, 0.2],
    cols: b2GrayCols, gray: b2Gray, red: b2Red, blue: b2Blue, bigRed: b2BigRed, bigBlue: b2BigBlue, xLabel: 'araA', xLabelY: 565, xLabelX: 1142 },
];

function drawB(svg: any, p: any) {
  const g = svg.append('g');
  const x = d3.scaleLinear().domain(p.xDomain).range([1041, 1245]);
  const y = d3.scaleLinear().domain(p.yDomain).range(p.yRange);

  g.append('line').attr('x1', x(0)).attr('x2', x(0)).attr('y1', p.yRange[1]).attr('y2', p.yRange[0])
    .attr('stroke', '#333').attr('stroke-width', 1.2).attr('stroke-dasharray', '4,3');
  g.append('line').attr('x1', 1041).attr('x2', 1245).attr('y1', y(0)).attr('y2', y(0))
    .attr('stroke', '#333').attr('stroke-width', 1.2).attr('stroke-dasharray', '4,3');

  // dense columns of gray points, drawn as their vertical extent
  g.append('g').selectAll('line').data(p.cols).enter().append('line')
    .attr('x1', (d: any) => x(d[0])).attr('x2', (d: any) => x(d[0]))
    .attr('y1', (d: any) => y(d[1])).attr('y2', (d: any) => y(d[2]))
    .attr('stroke', '#cbcbcb').attr('stroke-width', 4.8).attr('stroke-linecap', 'round');
  g.append('g').selectAll('circle').data(p.gray).enter().append('circle')
    .attr('cx', (d: any) => x(d[0])).attr('cy', (d: any) => y(d[1])).attr('r', 2.4)
    .attr('fill', '#dedede').attr('stroke', '#c2c2c2').attr('stroke-width', 0.9);
  g.append('g').selectAll('circle').data(p.blue).enter().append('circle')
    .attr('cx', (d: any) => x(d[0])).attr('cy', (d: any) => y(d[1])).attr('r', 2.2)
    .attr('fill', '#10208a').attr('stroke', '#111').attr('stroke-width', 0.7);
  g.append('g').selectAll('circle').data(p.red).enter().append('circle')
    .attr('cx', (d: any) => x(d[0])).attr('cy', (d: any) => y(d[1])).attr('r', 2.2)
    .attr('fill', '#d01010').attr('stroke', '#111').attr('stroke-width', 0.7);
  g.append('g').selectAll('circle').data(p.bigRed).enter().append('circle')
    .attr('cx', (d: any) => x(d[0])).attr('cy', (d: any) => y(d[1])).attr('r', 4)
    .attr('fill', '#ee1111').attr('stroke', '#111').attr('stroke-width', 0.9);
  g.append('g').selectAll('circle').data(p.bigBlue).enter().append('circle')
    .attr('cx', (d: any) => x(d[0])).attr('cy', (d: any) => y(d[1])).attr('r', 4)
    .attr('fill', '#1530f0').attr('stroke', '#111').attr('stroke-width', 0.9);

  const ax = g.append('g').attr('transform', `translate(0,${p.yRange[0]})`)
    .call(d3.axisBottom(x).tickValues(p.xTicks).tickSize(4).tickSizeOuter(0).tickPadding(3).tickFormat((d: any) => (+d).toFixed(1)));
  styleAxis(ax);
  const ay = g.append('g').attr('transform', 'translate(1041,0)')
    .call(d3.axisLeft(y).tickValues(p.yTicks).tickSize(4).tickSizeOuter(0).tickPadding(4).tickFormat((d: any) => (+d).toFixed(1)));
  styleAxis(ay);

  const xl = g.append('text').attr('x', p.xLabelX).attr('y', p.xLabelY).attr('text-anchor', 'middle')
    .attr('font-family', FONT).attr('font-size', 17).attr('fill', '#222');
  frelText(xl, p.xLabel, true);
  const cy = (p.yRange[0] + p.yRange[1]) / 2 - 12;
  g.append('text').attr('transform', `translate(985,${cy}) rotate(-90)`).attr('text-anchor', 'middle')
    .attr('font-family', FONT).attr('font-size', 17).attr('fill', '#222').text('Fitness change');
}

export default function App() {
  const ref = useRef<SVGSVGElement>(null);

  useEffect(() => {
    const svg = d3.select(ref.current);
    svg.selectAll('*').remove();

    topPanels.forEach(p => drawTop(svg, p));
    scatterPanels.forEach(p => drawScatter(svg, p));
    bPanels.forEach(p => drawB(svg, p));

    // panel letters and shared labels
    svg.append('text').attr('x', 18).attr('y', 26).attr('font-family', FONT).attr('font-weight', 'bold')
      .attr('font-size', 19).attr('fill', '#111').text('A');
    svg.append('text').attr('x', 978).attr('y', 26).attr('font-family', FONT).attr('font-weight', 'bold')
      .attr('font-size', 19).attr('fill', '#111').text('B');
    const bt = svg.append('text').attr('x', 1145).attr('y', 22).attr('text-anchor', 'middle')
      .attr('font-family', FONT).attr('font-weight', 'bold').attr('fill', '#c8102e').attr('font-size', 16);
    richText(bt, 'Env_{1}', 16);

    svg.append('text').attr('transform', 'translate(25,133) rotate(-90)').attr('text-anchor', 'middle')
      .attr('font-family', FONT).attr('font-size', 17).attr('fill', '#222').text('Epistasis');
    const yl = svg.append('text').attr('transform', 'translate(25,374) rotate(-90)').attr('text-anchor', 'middle')
      .attr('font-family', FONT).attr('font-size', 17).attr('fill', '#222');
    frelText(yl, 'observed', false);
    const xl = svg.append('text').attr('x', 513).attr('y', 553).attr('text-anchor', 'middle')
      .attr('font-family', FONT).attr('font-size', 17).attr('fill', '#222');
    frelText(xl, 'expected', false);
  }, []);

  return <svg ref={ref} width={W} height={H} style={{ position: 'absolute', left: 0, top: 0, background: '#fff' }} />;
}
